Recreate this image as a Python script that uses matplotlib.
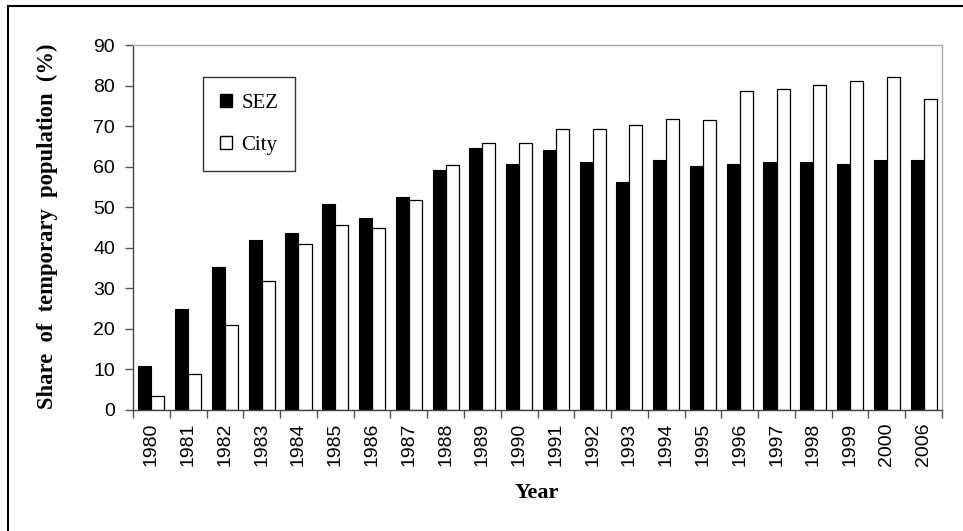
import matplotlib
matplotlib.use("Agg")
import matplotlib.pyplot as plt
import numpy as np
from matplotlib.lines import Line2D
from matplotlib.patches import Patch

years = ["1980", "1981", "1982", "1983", "1984", "1985", "1986", "1987", "1988",
         "1989", "1990", "1991", "1992", "1993", "1994", "1995", "1996", "1997",
         "1998", "1999", "2000", "2006"]
sez = [10.8, 25.0, 35.2, 42.0, 43.6, 50.9, 47.4, 52.4, 59.1, 64.6, 60.7, 64.1,
       61.1, 56.3, 61.6, 60.1, 60.7, 61.1, 61.1, 60.7, 61.6, 61.6]
city = [3.4, 8.8, 21.0, 31.8, 41.0, 45.5, 45.0, 51.8, 60.5, 65.9, 65.9, 69.4,
        69.4, 70.3, 71.8, 71.4, 78.7, 79.2, 80.1, 81.1, 82.0, 76.8]

W, H = 963, 531
fig = plt.figure(figsize=(W / 100, H / 100), dpi=100)
L, R, T, B = 133, 942, 45, 410
ax = fig.add_axes([L / W, 1 - B / H, (R - L) / W, (B - T) / H])

x = np.arange(len(years))
bw = 0.355
ax.bar(x - bw / 2, sez, width=bw, color="black", edgecolor="black", linewidth=0.8)
ax.bar(x + bw / 2, city, width=bw, color="white", edgecolor="black", linewidth=0.9)

ax.set_xlim(-0.5, len(years) - 0.5)
ax.set_ylim(0, 90)
ax.set_yticks(np.arange(0, 91, 10))
ax.set_xticks(x)
ax.set_xticklabels(years, rotation=90, fontfamily="Liberation Sans", fontsize=14)
ax.set_xticks(np.arange(-0.5, len(years), 1), minor=True)
ax.tick_params(axis="x", which="major", length=0, pad=9)
ax.tick_params(axis="x", which="minor", length=6, width=1, color="#555555", direction="out")
ax.tick_params(axis="y", which="major", length=6, width=1, color="#555555", direction="out", pad=7)
for lab in ax.get_yticklabels():
    lab.set_fontfamily("Liberation Sans")
    lab.set_fontsize(14)

for s in ["top", "right"]:
    ax.spines[s].set_color("#aaaaaa")
    ax.spines[s].set_linewidth(1)
for s in ["left", "bottom"]:
    ax.spines[s].set_color("#444444")
    ax.spines[s].set_linewidth(1)

handles = [Patch(facecolor="black", edgecolor="black", label="SEZ"),
           Patch(facecolor="white", edgecolor="black", label="City")]
leg = ax.legend(handles=handles, loc="upper left",
                bbox_to_anchor=((203 - L) / (R - L), (B - 77) / (B - T)),
                borderaxespad=0, frameon=True, fancybox=False, framealpha=1,
                edgecolor="#333333", prop={"family": "Liberation Serif", "size": 15},
                handlelength=0.6, handleheight=0.6, handletextpad=0.45,
                labelspacing=1.1, borderpad=0.8)
leg.get_frame().set_linewidth(1)

fig.text(47 / W, 1 - 226 / H, "Share  of  temporary  population  (%)", rotation=90,
         ha="center", va="center", fontfamily="Liberation Serif", fontweight="bold",
         fontsize=16.3)
fig.text(537 / W, 1 - 493 / H, "Year", ha="center", va="center",
         fontfamily="Liberation Serif", fontweight="bold", fontsize=16)

fig.add_artist(Line2D([8 / W, 8 / W], [0, 1 - 6 / H], transform=fig.transFigure,
                      color="black", linewidth=1.5))
fig.add_artist(Line2D([8 / W, 1], [1 - 6 / H, 1 - 6 / H], transform=fig.transFigure,
                      color="black", linewidth=1.5))

fig.savefig("out.png", dpi=100)
